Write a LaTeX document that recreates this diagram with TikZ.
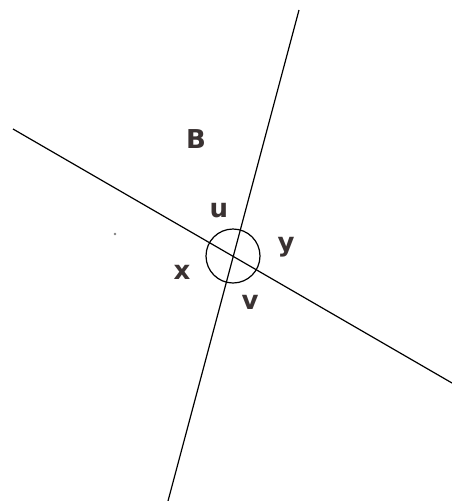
\documentclass[tikz,border=0pt]{standalone}
\usepackage{fontspec}
\setmainfont{DejaVu Sans}
\definecolor{lblc}{HTML}{3A3232}
\begin{document}
\begin{tikzpicture}[x=1pt,y=-1pt,
  lbl/.style={font=\fontsize{26}{28}\selectfont\bfseries, text=lblc, inner sep=0pt},
  ln/.style={line width=1.2pt, black}]
\useasboundingbox (0,0) rectangle (452,501);
\coordinate (a1) at (299,10);
\coordinate (a2) at (168,501);
\coordinate (b1) at (13,129);
\coordinate (b2) at (452,383);
\coordinate (c) at (233,256);
\draw[ln] (a1) -- (a2);
\draw[ln] (b1) -- (b2);
\draw[line width=1.2pt] (c) circle (27);
\node[lbl] (B) at (196,139) {B};
\node[lbl] (u) at (219,211) {u};
\node[lbl] (y) at (286,247) {y};
\node[lbl] (x) at (182,272) {x};
\node[lbl] (v) at (250,302) {v};
\fill[gray] (115,234) circle (1.4) coordinate (dot);
\end{tikzpicture}
\end{document}
